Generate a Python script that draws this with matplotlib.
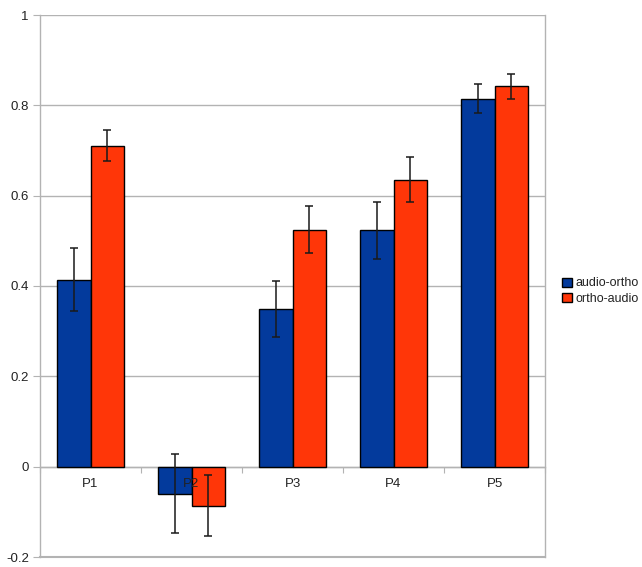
import numpy as np
import matplotlib

matplotlib.use('Agg')

import matplotlib.pyplot as plt

plt.rcParams['font.family'] = ['Liberation Sans', 'DejaVu Sans']

# values
categories = ['P1', 'P2', 'P3', 'P4', 'P5']
audio_ortho = [0.414, -0.060, 0.350, 0.523, 0.815]
audio_ortho_err = [0.070, 0.087, 0.062, 0.063, 0.032]
ortho_audio = [0.711, -0.086, 0.525, 0.635, 0.842]
ortho_audio_err = [0.035, 0.068, 0.053, 0.050, 0.028]
series_names = ['audio-ortho', 'ortho-audio']

blue = '#033a9c'
red = '#ff3608'
grid = '#b3b3b3'

fig = plt.figure(figsize=(6.42, 5.67), dpi=100)
ax = fig.add_axes([40 / 642, 1 - 557 / 567, 505 / 642, 542 / 567])
ax.set_axisbelow(True)

x = np.arange(len(categories))
w = 0.327
err_style = {'ecolor': '#1a1a1a', 'elinewidth': 1.1, 'capthick': 1.1}

ax.bar(x - w / 2, audio_ortho, w, color=blue, edgecolor='black', linewidth=1,
       yerr=audio_ortho_err, capsize=2.6, error_kw=err_style,
       label=series_names[0], zorder=3)
ax.bar(x + w / 2, ortho_audio, w, color=red, edgecolor='black', linewidth=1,
       yerr=ortho_audio_err, capsize=2.6, error_kw=err_style,
       label=series_names[1], zorder=3)

ax.set_ylim(-0.2, 1)
ax.set_xlim(-0.5, len(categories) - 0.5)
ax.set_yticks([-0.2, 0, 0.2, 0.4, 0.6, 0.8, 1])
ax.set_yticklabels(['-0.2', '0', '0.2', '0.4', '0.6', '0.8', '1'])
ax.yaxis.grid(True, color=grid, linewidth=1)

# category axis sits on the zero line, its labels drawn over the bars
ax.spines['bottom'].set_position(('data', 0))
ax.set_xticks(np.arange(len(categories) + 1) - 0.5)
ax.set_xticklabels([])
ax.set_xticks(x, minor=True)
ax.set_xticklabels(categories, minor=True)
ax.tick_params(axis='x', which='major', direction='out', length=4, color=grid)
ax.tick_params(axis='x', which='minor', length=0, pad=8, labelsize=9.5,
               labelcolor='#222222')
ax.tick_params(axis='y', direction='out', length=5, color=grid, labelsize=9.5,
               labelcolor='#222222', pad=3)
ax.xaxis.set_zorder(4)

for s in ax.spines.values():
    s.set_color(grid)
    s.set_linewidth(1)
ax.spines['top'].set_visible(False)
ax.axhline(-0.2, color=grid, linewidth=1.5, zorder=0.5, clip_on=False)

leg = fig.legend(loc='center left', bbox_to_anchor=(556 / 642, 1 - 291 / 567),
                 frameon=False, fontsize=9, handlelength=0.75, handleheight=0.75,
                 handletextpad=0.35, labelspacing=0.25, borderpad=0)
for t in leg.get_texts():
    t.set_color('#222222')

plt.savefig('out.png', dpi=100)
